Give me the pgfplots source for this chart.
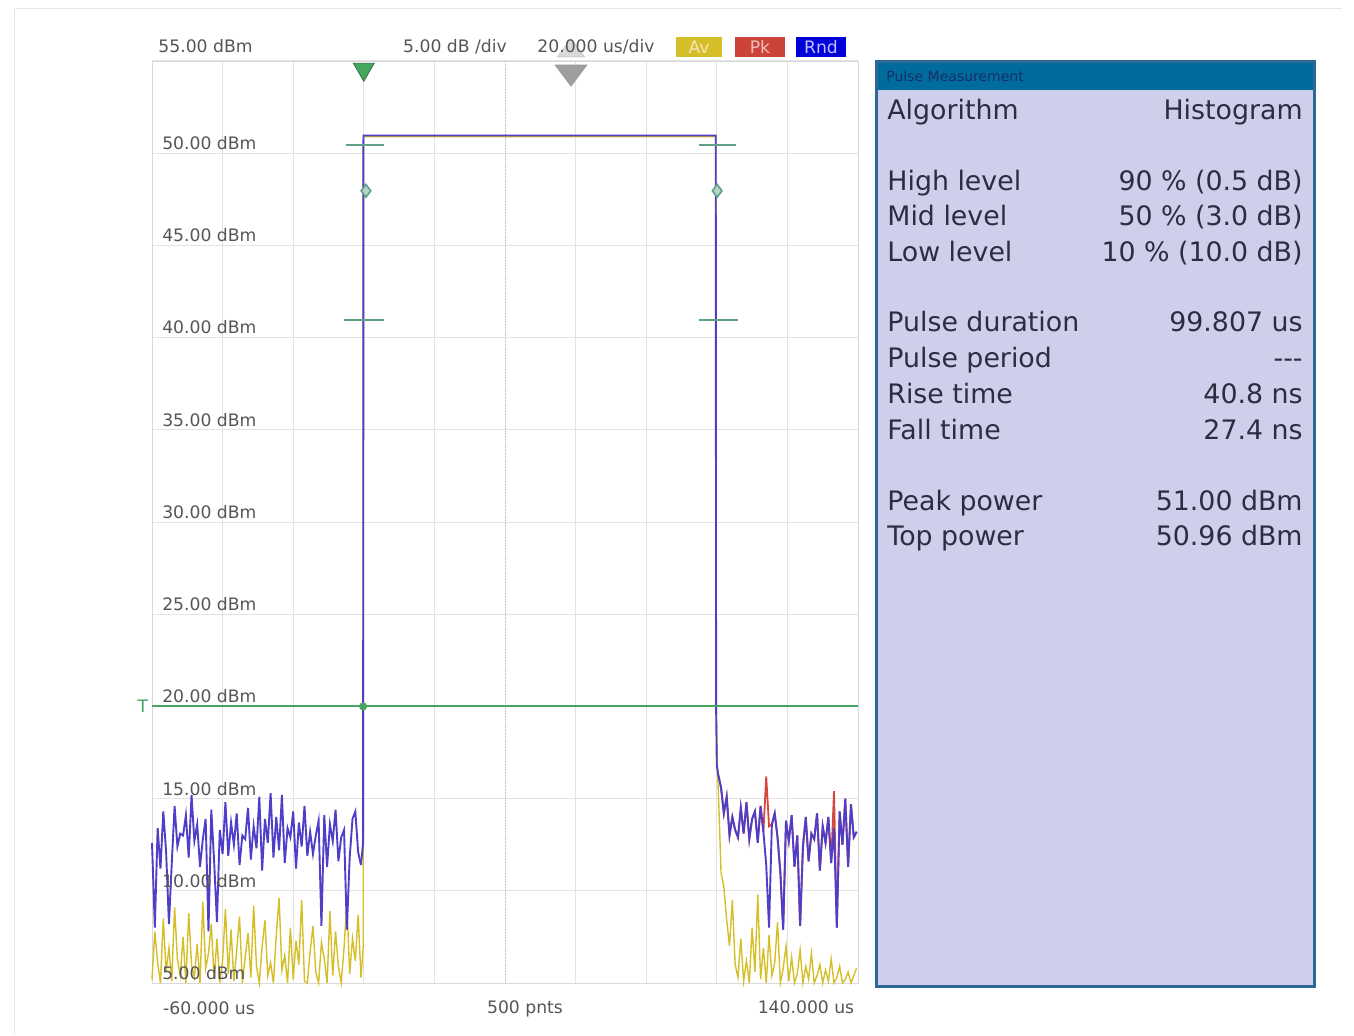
\documentclass[border=0pt]{standalone}
\usepackage{pgfplots}
\pgfplotsset{compat=1.18}
\usepackage{fontspec}
\setmainfont{DejaVu Sans}
\definecolor{rnd}{RGB}{78,62,200}
\definecolor{pk}{RGB}{215,70,60}
\definecolor{av}{RGB}{214,190,40}
\definecolor{trig}{RGB}{70,165,95}
\definecolor{mk}{RGB}{95,160,135}
\definecolor{hdr}{RGB}{0,108,158}
\definecolor{bodyc}{RGB}{207,207,236}
\definecolor{bord}{RGB}{45,105,150}
\definecolor{lab}{RGB}{85,85,85}
\definecolor{ptxt}{RGB}{45,45,65}
\newcommand{\sm}{\fontsize{8.6}{10}\selectfont}
\newcommand{\pn}{\fontsize{13.4}{15}\selectfont}
\begin{document}
\begin{tikzpicture}
\path[use as bounding box] (0,0) rectangle (677pt,517.5pt);
\begin{axis}[at={(76pt,26pt)}, anchor=south west, scale only axis,
  width=353pt, height=461pt,
  xmin=-60, xmax=140, ymin=5, ymax=55,
  xtick={-60,-40,...,140}, ytick={5,10,...,55},
  xticklabels={}, yticklabels={}, major tick length=0pt,
  grid=major, grid style={gray!22, line width=0.5pt},
  axis line style={gray!30},
  clip=false]
\addplot[gray!55, densely dotted] coordinates {(40,5) (40,55)};
% Av trace
\addplot[av, line width=0.7pt] table[x expr=\coordindex*0.8-60, y index=0, header=false, row sep=\\]
{5.2\\7.8\\6.1\\5.0\\8.5\\5.6\\6.9\\5.1\\9.1\\6.3\\5.4\\7.5\\5.0\\8.8\\6.0\\5.3\\7.1\\5.0\\9.4\\5.8\\6.6\\8.2\\5.2\\7.4\\5.0\\6.2\\9.0\\5.5\\7.9\\5.1\\6.8\\8.6\\5.0\\6.4\\7.7\\5.3\\9.2\\5.9\\5.0\\7.0\\8.4\\5.4\\6.1\\5.0\\7.6\\9.6\\5.7\\6.5\\5.0\\8.0\\5.2\\7.3\\6.0\\9.5\\5.1\\5.0\\6.7\\8.1\\5.6\\5.0\\7.2\\6.3\\5.0\\8.9\\5.4\\7.8\\5.9\\5.0\\6.9\\9.3\\5.5\\7.4\\6.2\\8.7\\5.3\\};
\addplot[av, line width=0.7pt] coordinates {(-0.8,5.3) (-0.15,7.0) (-0.1,50.9) (99.7,50.9) (99.85,20.0) (100.2,16.5) (100.6,14.5) (101.2,11.0)};
\addplot[av, line width=0.7pt] table[x expr=\coordindex*0.8+101.2, y index=0, header=false, row sep=\\]
{11.0\\10.2\\8.4\\7.0\\9.5\\6.0\\5.3\\7.4\\5.1\\6.2\\5.0\\8.0\\5.6\\9.8\\5.2\\6.9\\5.0\\7.6\\5.4\\6.1\\8.3\\5.0\\5.8\\7.0\\5.1\\6.4\\5.0\\5.5\\6.8\\5.0\\5.9\\5.2\\6.6\\5.0\\5.4\\6.0\\5.0\\5.7\\5.1\\6.3\\5.0\\5.3\\5.9\\5.0\\5.2\\5.6\\5.0\\5.4\\5.8\\};
% Pk trace (right part visible)
\addplot[pk, line width=0.9pt] table[x expr=\coordindex*0.8+100.4, y index=0, header=false, row sep=\\]
{16.3\\15.6\\14.2\\15.1\\13.0\\14.0\\13.3\\12.9\\14.5\\13.1\\14.8\\12.8\\13.9\\14.3\\12.6\\14.6\\13.2\\16.2\\13.5\\13.6\\14.2\\12.9\\11.0\\7.9\\13.8\\12.7\\14.1\\11.3\\13.0\\8.1\\12.4\\14.0\\11.6\\13.1\\12.8\\14.2\\11.1\\13.5\\12.6\\14.0\\11.5\\15.4\\8.0\\14.3\\12.5\\15.0\\11.3\\14.7\\12.9\\13.2\\};
% Rnd trace
\addplot[rnd, line width=0.95pt] table[x expr=\coordindex*0.8-60, y index=0, header=false, row sep=\\]
{12.6\\8.0\\13.4\\11.2\\14.3\\12.1\\8.2\\11.5\\14.6\\12.4\\13.1\\13.0\\14.1\\11.8\\15.2\\12.7\\13.6\\11.3\\12.8\\13.9\\7.8\\14.4\\11.6\\8.3\\13.3\\12.0\\14.8\\11.9\\13.7\\12.5\\14.2\\11.4\\13.0\\12.8\\14.5\\11.7\\13.5\\12.3\\15.1\\11.1\\13.9\\12.6\\15.3\\11.8\\14.0\\12.2\\15.2\\11.5\\13.4\\12.9\\14.3\\11.2\\13.7\\12.4\\14.6\\11.9\\13.2\\12.0\\13.0\\13.8\\8.1\\14.1\\11.3\\13.6\\12.7\\14.4\\11.6\\12.9\\13.3\\7.9\\11.8\\13.9\\14.3\\12.1\\11.4\\};
\addplot[rnd, line width=0.95pt] coordinates {(-0.8,11.4) (-0.2,12.6) (-0.1,50.96) (99.7,50.96) (99.8,20.0) (100.0,16.8) (100.4,16.3)};
\addplot[rnd, line width=0.95pt] table[x expr=\coordindex*0.8+100.4, y index=0, header=false, row sep=\\]
{16.3\\15.6\\14.2\\15.1\\13.0\\14.0\\13.3\\12.9\\14.5\\13.1\\14.8\\12.8\\13.9\\14.3\\12.6\\14.6\\13.2\\11.4\\8.0\\13.6\\14.2\\12.9\\11.0\\7.9\\13.8\\12.7\\14.1\\11.3\\13.0\\8.1\\12.4\\14.0\\11.6\\13.1\\12.8\\14.2\\11.1\\13.5\\12.6\\14.0\\11.5\\13.4\\8.0\\14.3\\12.5\\15.0\\11.3\\14.7\\12.9\\13.2\\};
% trigger line
\addplot[trig, line width=1pt] coordinates {(-60,20) (140,20)};
\addplot[trig, only marks, mark=*, mark size=1.8pt] coordinates {(-0.2,20)};
% level markers
\addplot[mk, line width=1pt] coordinates {(-5,50.46) (5.7,50.46)};
\addplot[mk, line width=1pt] coordinates {(95,50.46) (105.5,50.46)};
\addplot[mk, line width=1pt] coordinates {(-5.5,40.96) (5.7,40.96)};
\addplot[mk, line width=1pt] coordinates {(95,40.96) (106,40.96)};
\addplot[mk, only marks, mark=diamond*, mark size=3.2pt, mark options={fill=mk!45, draw=mk, line width=0.8pt}] coordinates {(0.6,47.96) (100.1,47.96)};
% top markers
\addplot[gray!45, only marks, mark=triangle*, mark size=6pt, mark options={xscale=1.3, fill=gray!30, draw=gray!40}] coordinates {(58.7,55.55)};
\addplot[gray, only marks, mark=triangle*, mark size=7pt, mark options={rotate=180, xscale=1.3, fill=gray!75, draw=gray!80}] coordinates {(58.7,54.4)};
\addplot[trig!85!black, only marks, mark=triangle*, mark size=6pt, mark options={rotate=180, fill=trig, draw=trig!70!black}] coordinates {(0,54.55)};
% y labels
\foreach \v/\t in {50/50.00,45/45.00,40/40.00,35/35.00,30/30.00,25/25.00,20/20.00,15/15.00,10/10.00,5/5.00}{
  \edef\tmp{\noexpand\node[anchor=base west, inner sep=0pt, text=lab, font=\noexpand\sm] at (axis cs:-57.2,\v) [yshift=1.8pt] {\t\space dBm};}
  \tmp
}
\end{axis}
\begin{scope}[x=0.5pt,y=-0.5pt,shift={(0pt,517.5pt)}]
\draw[gray!18] (14,1035) -- (14,8) -- (1342,8);
\node[anchor=west, inner sep=0pt, text=lab, font=\sm] at (158,46) {55.00 dBm};
\node[inner sep=0pt, text=lab, font=\sm] at (455,47) {5.00 dB /div};
\node[inner sep=0pt, text=lab, font=\sm] at (596,47) {20.000 us/div};
\fill[av] (676,37) rectangle (722,57);
\node[inner sep=0pt, text=av!35, font=\sm] at (699,47) {Av};
\fill[pk!95!black] (735,37) rectangle (785,57);
\node[inner sep=0pt, text=pk!35, font=\sm] at (760,47) {Pk};
\fill[blue!85!black] (796,37) rectangle (846,57);
\node[inner sep=0pt, text=blue!25, font=\sm] at (821,47) {Rnd};
\node[inner sep=0pt, text=trig, font=\sm] at (143,706) {T};
\node[inner sep=0pt, text=lab, font=\sm] at (209,1008) {-60.000 us};
\node[inner sep=0pt, text=lab, font=\sm] at (525,1009) {500 pnts};
\node[inner sep=0pt, text=lab, font=\sm] at (806,1007) {140.000 us};
% panel
\fill[bodyc] (876,62) rectangle (1314,986);
\fill[hdr] (876,62) rectangle (1314,90);
\draw[bord, line width=1.5pt] (876,62) rectangle (1314,986);
\node[anchor=west, inner sep=0pt, text={rgb,255:red,25;green,45;blue,105}, font=\fontsize{7}{8}\selectfont] at (886,76) {Pulse Measurement};
\foreach \y/\a/\b in {110/Algorithm/Histogram, 181/High level/90 \% (0.5 dB), 216/Mid level/50 \% (3.0 dB), 252/Low level/10 \% (10.0 dB), 322/Pulse duration/99.807 us, 358/Pulse period/{-}{-}{-}, 394/Rise time/40.8 ns, 430/Fall time/27.4 ns, 501/Peak power/51.00 dBm, 536/Top power/50.96 dBm}{
  \node[anchor=base west, inner sep=0pt, text=ptxt, font=\pn] at (887,\y+9.5) {\a};
  \node[anchor=base east, inner sep=0pt, text=ptxt, font=\pn] at (1303,\y+9.5) {\b};
}
\end{scope}
\end{tikzpicture}
\end{document}
